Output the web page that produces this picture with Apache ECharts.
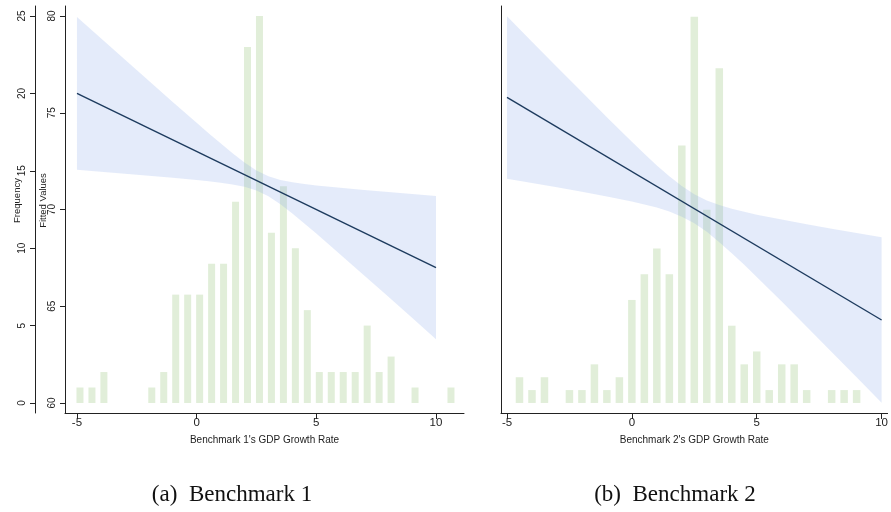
<!DOCTYPE html>
<html>
<head>
<meta charset="utf-8">
<script src="https://cdn.jsdelivr.net/npm/echarts@6/dist/echarts.min.js"></script>
<style>html,body{margin:0;padding:0;background:#fff;}#c{width:891px;height:512px;}</style>
</head>
<body>
<div id="c"></div>
<script>
// ---------- Data ----------
const xTicks = [-5, 0, 5, 10];
const fittedTicks = [60, 65, 70, 75, 80];
const freqTicks = [0, 5, 10, 15, 20, 25];

// Panel (a): histogram of Benchmark 1's GDP growth rate
const binCenters1 = [-4.875,-4.375,-3.875,-3.375,-2.875,-2.375,-1.875,-1.375,-0.875,-0.375,0.125,0.625,1.125,1.625,2.125,2.625,3.125,3.625,4.125,4.625,5.125,5.625,6.125,6.625,7.125,7.625,8.125,8.625,9.125,9.625,10.125,10.625];
const freq1 = [1,1,2,0,0,0,1,2,7,7,7,9,9,13,23,25,11,14,10,6,2,2,2,2,5,2,3,0,1,0,0,1];

// Panel (b): histogram of Benchmark 2's GDP growth rate
const binCenters2 = [-4.5,-4,-3.5,-3,-2.5,-2,-1.5,-1,-0.5,0,0.5,1,1.5,2,2.5,3,3.5,4,4.5,5,5.5,6,6.5,7,7.5,8,8.5,9];
const freq2 = [2,1,2,0,1,1,3,1,2,8,10,12,10,20,30,15,26,6,3,4,1,3,3,1,0,1,1,1];

// Fitted line end points and confidence band
const fitX = [-5, 10];
const fit1 = [76.0, 67.0];
const fit2 = [75.79, 64.29];

const bandX = [-5,-4,-3,-2,-1,0,0.5,1,1.5,2,2.5,3,3.5,4,4.5,5,6,7,8,9,10];
const upper1 = [79.95,78.85,77.75,76.65,75.56,74.48,73.94,73.42,72.91,72.43,72.02,71.72,71.53,71.41,71.32,71.24,71.12,71.01,70.90,70.80,70.70];
const lower1 = [72.05,71.95,71.85,71.75,71.64,71.52,71.46,71.38,71.29,71.17,70.98,70.68,70.27,69.79,69.28,68.76,67.68,66.59,65.50,64.40,63.30];
const upper2 = [79.99,78.67,77.37,76.07,74.77,73.50,72.88,72.28,71.72,71.21,70.79,70.47,70.23,70.04,69.88,69.73,69.48,69.24,69.01,68.79,68.57];
const lower2 = [71.59,71.37,71.15,70.92,70.67,70.41,70.26,70.10,69.90,69.63,69.29,68.85,68.31,67.74,67.14,66.51,65.24,63.94,62.63,61.33,60.01];

const xTitle1 = "Benchmark 1's GDP Growth Rate";
const xTitle2 = "Benchmark 2's GDP Growth Rate";
const caption1 = "(a)  Benchmark 1";
const caption2 = "(b)  Benchmark 2";

// ---------- Styles ----------
const AXIS = '#222';
const BAR = 'rgba(172,208,150,0.36)';
const BAND = 'rgba(130,165,230,0.22)';
const LINE = '#1d3b5e';
const SANS = 'Liberation Sans, Arial, sans-serif';
const NARROW = 'Liberation Sans Narrow, Arial Narrow, Liberation Sans, sans-serif';

function pairs(xs, ys) { return xs.map((x, i) => [x, ys[i]]); }

function bandSeries(xIdx, yIdx, up, lo) {
  return {
    type: 'custom', xAxisIndex: xIdx, yAxisIndex: yIdx, silent: true, z: 3,
    data: [[bandX[0], up[0]]],
    renderItem: function (params, api) {
      const pts = [];
      for (let i = 0; i < bandX.length; i++) pts.push(api.coord([bandX[i], up[i]]));
      for (let i = bandX.length - 1; i >= 0; i--) pts.push(api.coord([bandX[i], lo[i]]));
      return { type: 'polygon', shape: { points: pts, smooth: 0 }, style: { fill: BAND, stroke: null } };
    }
  };
}

function xAxisCfg(gi, min, max, title) {
  return {
    type: 'value', gridIndex: gi, min: min, max: max,
    axisLine: { show: true, onZero: false, lineStyle: { color: AXIS, width: 1 } },
    axisTick: { show: true, customValues: xTicks, length: 6, lineStyle: { color: AXIS } },
    axisLabel: { customValues: xTicks, color: '#222', fontFamily: NARROW, fontSize: 11.5, margin: 4 },
    splitLine: { show: false },
    name: title, nameLocation: 'middle', nameGap: 22, nameMoveOverlap: false,
    nameTextStyle: { fontFamily: SANS, fontSize: 10, color: '#222' }
  };
}

const chart = echarts.init(document.getElementById('c'), null, { renderer: 'canvas' });
chart.setOption({
  animation: false,
  backgroundColor: '#fff',
  grid: [
    { left: 65, right: 427, top: 6, bottom: 99, containLabel: false },
    { left: 501, right: 0, top: 6, bottom: 99, containLabel: false }
  ],
  xAxis: [
    xAxisCfg(0, -5.5, 11.17, xTitle1),
    xAxisCfg(1, -5.24, 10.24, xTitle2)
  ],
  yAxis: [
    { // fitted values, panel a
      type: 'value', gridIndex: 0, position: 'left', offset: 0, min: 59.483, max: 80.517,
      axisLine: { show: true, onZero: false, lineStyle: { color: AXIS } },
      axisTick: { show: true, customValues: fittedTicks, length: 5, lineStyle: { color: AXIS } },
      axisLabel: { customValues: fittedTicks, rotate: 90, color: '#222', fontFamily: SANS, fontSize: 10, margin: 8 },
      splitLine: { show: false },
      name: 'Fitted Values', nameLocation: 'middle', nameGap: 17, nameRotate: 90, nameMoveOverlap: false,
      nameTextStyle: { fontFamily: SANS, fontSize: 9.5, color: '#222', padding: [0, 0, 0, 18] }
    },
    { // frequency, panel a
      type: 'value', gridIndex: 0, position: 'left', offset: 30, min: -0.646, max: 25.646,
      axisLine: { show: true, onZero: false, lineStyle: { color: AXIS } },
      axisTick: { show: true, customValues: freqTicks, length: 5, lineStyle: { color: AXIS } },
      axisLabel: { customValues: freqTicks, rotate: 90, color: '#222', fontFamily: SANS, fontSize: 10, margin: 8 },
      splitLine: { show: false },
      name: 'Frequency', nameLocation: 'middle', nameGap: 13, nameRotate: 90, nameMoveOverlap: false,
      nameTextStyle: { fontFamily: SANS, fontSize: 9.5, color: '#222', padding: [0, 0, 0, 18] }
    },
    { // fitted values, panel b (unlabelled)
      type: 'value', gridIndex: 1, position: 'left', min: 59.483, max: 80.517,
      axisLine: { show: true, onZero: false, lineStyle: { color: AXIS } },
      axisTick: { show: false }, axisLabel: { show: false }, splitLine: { show: false }
    },
    { // frequency, panel b (hidden)
      type: 'value', gridIndex: 1, position: 'left', min: -0.78, max: 30.83, show: false,
      splitLine: { show: false }
    }
  ],
  series: [
    { type: 'bar', xAxisIndex: 0, yAxisIndex: 1, data: pairs(binCenters1, freq1), barWidth: 7,
      itemStyle: { color: BAR }, silent: true, z: 2 },
    bandSeries(0, 0, upper1, lower1),
    { type: 'line', xAxisIndex: 0, yAxisIndex: 0, data: pairs(fitX, fit1), symbol: 'none',
      lineStyle: { color: LINE, width: 1.4 }, silent: true, z: 4 },

    { type: 'bar', xAxisIndex: 1, yAxisIndex: 3, data: pairs(binCenters2, freq2), barWidth: 7.5,
      itemStyle: { color: BAR }, silent: true, z: 2 },
    bandSeries(1, 2, upper2, lower2),
    { type: 'line', xAxisIndex: 1, yAxisIndex: 2, data: pairs(fitX, fit2), symbol: 'none',
      lineStyle: { color: LINE, width: 1.4 }, silent: true, z: 4 }
  ],
  graphic: [
    { type: 'text', x: 232, y: 495, style: { text: caption1, font: '23px "Liberation Serif", serif', fill: '#111', align: 'center', verticalAlign: 'middle' } },
    { type: 'text', x: 675, y: 495, style: { text: caption2, font: '23px "Liberation Serif", serif', fill: '#111', align: 'center', verticalAlign: 'middle' } }
  ]
});
</script>
</body>
</html>
